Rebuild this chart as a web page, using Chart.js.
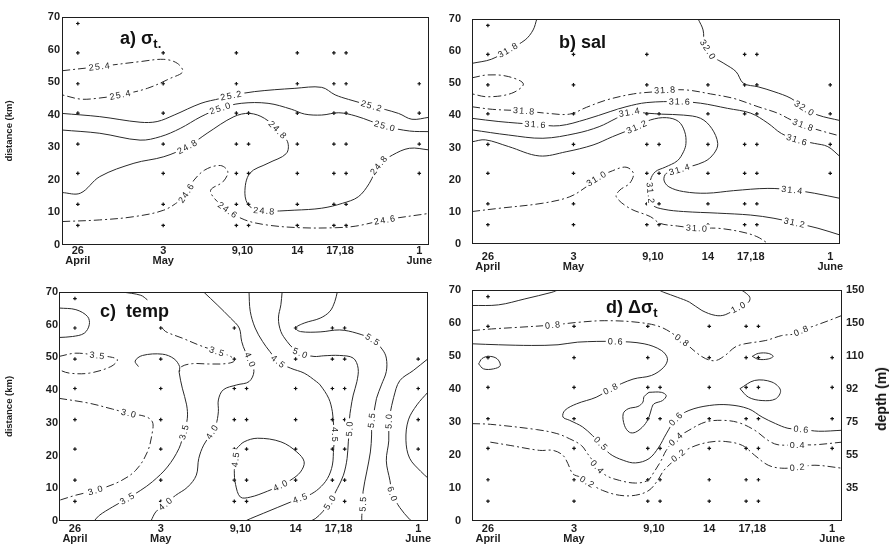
<!DOCTYPE html>
<html>
<head>
<meta charset="utf-8">
<script src="https://cdn.jsdelivr.net/npm/chart.js@4.4.1/dist/chart.umd.min.js"></script>
<style>
	html, body { margin: 0; padding: 0; background: #fff; }
	#page { position: relative; width: 892px; height: 548px; overflow: hidden; font-family: 'Liberation Sans', Arial, sans-serif; color: #111; }
	.panel { position: absolute; width: 446px; height: 274px; }
	.title { position: absolute; font-size: 18px; line-height: 18px; font-weight: bold; white-space: nowrap; }
	.title sub { font-size: 13px; vertical-align: -4px; }
	#depth { position: absolute; left: 881px; top: 399px; transform: translate(-50%, -50%) rotate(-90deg); font-size: 14px; font-weight: bold; white-space: nowrap; }
</style>
</head>
<body>
<div id="page">
	<div class="panel" style="left:0;top:0"><canvas id="chart-a" width="446" height="274"></canvas></div>
	<div class="panel" style="left:446px;top:0"><canvas id="chart-b" width="446" height="274"></canvas></div>
	<div class="panel" style="left:0;top:274px"><canvas id="chart-c" width="446" height="274"></canvas></div>
	<div class="panel" style="left:446px;top:274px"><canvas id="chart-d" width="446" height="274"></canvas></div>
	<div class="title" style="left:120px;top:29px">a) σ<sub>t.</sub></div>
	<div class="title" style="left:559px;top:33px">b) sal</div>
	<div class="title" style="left:100px;top:302px">c)&nbsp; temp</div>
	<div class="title" style="left:606px;top:298px">d) Δσ<sub>t</sub></div>
	<div id="depth">depth (m)</div>
</div>
<script>
'use strict';

// x = days after 26 April, y = distance (km)
const tickDays = [0, 7, 13.5, 18, 21.5, 28];
const tickLabels = [['26', 'April'], ['3', 'May'], '9,10', '14', '17,18', ['1', 'June']];
const depthTicks = [10, 20, 30, 40, 50, 60, 70];
const depthLabels = ['35', '55', '75', '92', '110', '150', '150'];

const stationDays = [0, 7, 13, 14, 18, 21, 22, 28];
const stationRows = [
	[6, 12.5, 22, 31, 40.5, 49.5, 59, 68],
	[6, 12.5, 22, 31, 40.5, 49.5, 59],
	[6, 12.5, 22, 31, 40.5, 49.5, 59],
	[6, 12.5, 22, 31, 40.5],
	[6, 12.5, 22, 31, 40.5, 49.5, 59],
	[6, 12.5, 22, 31, 40.5, 49.5, 59],
	[6, 12.5, 22, 31, 40.5, 49.5, 59],
	[22, 31, 40.5, 49.5]
];

// a) sigma-t
const sigma254 = [[-1.3,53.5],[1.8,54.8],[5.1,56.3],[7.05,57.0],[8.15,55.8],[8.6,53.2],[7.6,51.2],[5.7,48.1],[3.5,46.1],[1.5,45.0],[0.2,44.8],[-1.3,46.1]];
const sigma252 = [[-1.3,40.4],[1.8,39.4],[5.1,37.7],[6.5,37.9],[7.9,39.9],[10.1,43.5],[11.7,45.0],[12.6,45.9],[14.5,47.1],[17.8,48.1],[20.0,48.4],[21.1,46.1],[22.2,44.7],[24.1,42.7],[26.3,40.4],[27.4,38.6],[28.8,39.2]];
const sigma250 = [[-1.3,35.3],[1.8,34.3],[5.1,32.2],[6.8,33.3],[8.4,35.8],[10.1,39.4],[11.7,42.0],[13.4,43.5],[15.6,43.5],[17.5,41.7],[18.6,40.2],[20.0,39.9],[21.4,40.6],[22.8,39.6],[25.2,36.5],[27.2,35.0],[28.8,34.8]];
const sigma248 = [[-1.3,16.1],[0.2,15.9],[1.8,21.0],[4.6,25.1],[7.05,27.1],[9.0,30.2],[10.6,34.3],[12.8,39.4],[14.1,40.4],[15.3,38.9],[16.4,35.3],[17.2,31.7],[17.1,28.1],[15.6,25.1],[14.1,22.0],[13.7,15.9],[14.1,11.8],[15.3,10.5],[17.8,10.7],[20.0,11.3],[21.7,12.8],[23.0,14.8],[23.9,18.9],[24.7,24.6],[25.8,27.6],[27.2,29.7],[28.8,29.2]];
const sigma246 = [[-1.3,7.2],[1.8,7.7],[4.6,8.7],[7.05,10.7],[8.4,13.8],[8.9,16.0],[9.3,18.9],[10.4,23.0],[11.7,24.4],[12.3,22.5],[11.9,19.4],[10.9,16.9],[11.2,14.3],[12.3,10.7],[13.7,7.7],[15.6,6.1],[18.3,5.3],[21.1,5.3],[22.8,5.8],[25.2,7.7],[28.8,9.7]];

// b) salinity
const sal318top = [[4.0,70],[3.7,66.6],[3.05,63.5],[1.67,60.4],[0.3,57.5],[-1.3,56.2]];
const salLoop = [[-1.3,51.7],[0.0,52.6],[1.67,52.1],[2.9,49.8],[1.95,46.9],[0.0,45.8],[-1.3,46.7]];
const sal320 = [[17.2,70],[17.6,66.6],[17.7,62.4],[18.0,60.4],[18.4,58.3],[19.3,56.2],[20.3,53.6],[20.9,50.0],[22.1,48.9],[23.4,47.4],[24.8,45.3],[25.9,42.2],[27.0,40.1],[28.8,38.4]];
const sal318 = [[-1.3,42.7],[0.36,41.9],[2.97,41.4],[4.75,40.7],[6.67,40.4],[8.05,42.5],[9.7,44.8],[11.9,46.7],[13.7,47.4],[14.5,47.9],[16.3,47.9],[18.2,46.7],[20.1,45.3],[22.1,42.7],[23.7,40.7],[24.8,38.6],[25.8,37.0],[27.0,35.5],[28.8,33.6]];
const sal316 = [[-1.3,39.1],[0.9,38.1],[3.9,37.2],[5.85,36.8],[8.05,38.8],[10.0,41.2],[11.3,42.7],[13.0,44.0],[15.7,44.3],[17.4,43.8],[19.6,42.2],[21.5,40.7],[22.9,37.6],[24.0,34.4],[25.3,32.4],[26.7,31.3],[27.8,30.3],[28.8,27.2]];
const sal314 = [[-1.3,35.5],[1.7,33.9],[4.5,32.9],[7.2,34.4],[9.1,36.5],[10.5,39.1],[11.6,41.0],[13.0,40.7],[14.2,40.4],[16.0,40.1],[17.4,39.1],[18.3,36.0],[18.8,31.3],[18.5,28.2],[17.7,25.6],[15.7,23.2],[14.6,22.0],[14.4,19.9],[14.8,17.8],[16.0,16.3],[17.9,15.8],[20.1,16.6],[22.9,17.3],[24.9,16.8],[26.7,15.8],[28.8,14.2]];
const sal312 = [[-1.3,31.8],[-0.2,32.4],[1.7,30.3],[4.2,27.4],[6.4,28.7],[8.6,30.8],[10.2,33.4],[12.2,36.5],[13.3,38.6],[14.6,39.3],[15.6,38.1],[16.1,34.9],[16.2,31.3],[16.0,28.7],[15.5,25.9],[14.5,23.9],[13.7,22.5],[13.3,19.9],[13.3,15.8],[13.5,12.1],[14.4,10.8],[16.0,10.1],[18.8,9.6],[21.5,9.0],[23.4,8.0],[25.1,6.6],[27.0,4.9],[28.8,2.8]];
const sal310 = [[-1.3,10.1],[0.9,11.1],[4.5,12.7],[6.7,14.7],[8.05,17.8],[8.9,20.4],[10.2,22.8],[11.3,23.9],[11.9,22.0],[11.6,18.9],[10.8,16.8],[10.5,14.7],[11.6,11.1],[13.3,8.5],[14.1,6.4],[15.5,5.6],[17.1,4.9],[18.8,4.9],[20.7,3.8],[22.0,2.3],[22.9,0.2],[23.0,0]];

// c) temperature
const tempLoop = [[-1.3,65.1],[0.08,64.6],[1.03,62.5],[1.17,60.0],[0.76,57.4],[-0.19,56.4],[-1.3,56.1]];
const temp35left = [[-1.3,50.3],[0.08,51.3],[1.85,50.6],[3.07,50.0],[3.47,49.2],[2.93,47.2],[1.17,45.2],[-0.46,45.2],[-1.3,46.2]];
const temp30 = [[-1.3,37.5],[1.17,36.0],[3.07,34.2],[4.42,32.9],[5.78,31.9],[6.32,30.3],[6.32,27.3],[5.91,21.1],[4.96,15.5],[3.6,12.0],[1.71,9.4],[0.08,7.9],[-1.3,6.3]];
const temp35 = [[5.18,47.2],[4.91,48.9],[5.51,50.6],[7.14,51.0],[8.08,49.6],[8.54,47.2],[8.5,45.5],[8.76,40.6],[9.11,35.5],[9.17,31.4],[8.9,27.3],[8.49,22.2],[7.54,16.5],[6.32,12.0],[5.37,9.4],[4.29,6.9],[3.07,4.3],[1.98,1.7],[1.57,0]];
const temp35upper = [[7.08,59.2],[7.4,57.9],[8.76,55.9],[10.1,53.8],[11.6,51.8],[12.7,50.3],[13.0,48.9],[12.3,48.1],[10.9,48.0],[9.6,48.1],[8.7,47.2],[8.5,45.5]];
const tempTop = [[3.88,70],[5.37,69.0],[5.91,67.6]];
const temp40 = [[10.5,70],[11.6,66.1],[12.7,62.0],[13.4,59.0],[13.6,54.9],[13.9,51.8],[14.3,49.2],[14.6,45.7],[14.2,42.6],[13.2,41.6],[12.1,40.1],[11.7,37.0],[11.7,33.4],[11.5,29.3],[11.2,27.3],[10.5,23.2],[10.1,19.1],[9.9,14.0],[9.2,10.4],[8.2,7.8],[7.4,5.3],[6.6,2.8],[6.2,0]];
const temp40loop = [[13.2,22.2],[13.8,24.2],[14.9,25.3],[16.8,24.2],[18.1,21.1],[18.7,18.1],[18.4,15.0],[17.6,12.5],[16.8,10.9],[15.7,9.1],[14.3,7.3],[13.5,7.3],[13.1,11.2],[13.0,15.5],[13.1,18.9],[13.2,22.2]];
const temp45 = [[14.2,70],[14.3,64.1],[14.7,59.0],[15.3,54.9],[15.9,51.8],[16.6,48.7],[17.6,46.7],[18.7,45.2],[19.7,42.6],[20.0,41.6],[20.7,37.5],[21.0,33.4],[21.1,29.3],[21.2,26.3],[21.1,22.2],[21.0,17.1],[20.6,13.0],[19.9,9.9],[19.1,7.9],[18.4,7.0],[17.6,5.8],[15.4,2.4],[14.3,0.7],[13.9,0]];
const temp50 = [[16.9,70],[16.8,66.1],[16.6,62.0],[16.8,57.9],[17.3,54.9],[17.8,52.8],[18.4,51.3],[19.5,50.3],[20.3,50.5],[21.6,50.6],[22.7,49.8],[23.1,46.7],[23.0,42.6],[22.7,38.5],[22.5,34.4],[22.4,31.4],[22.4,28.3],[22.3,24.2],[22.2,19.1],[21.9,14.0],[21.4,9.9],[20.8,5.8],[20.2,2.8],[19.6,0.7],[19.2,0]];
const temp55 = [[21.4,70],[21.2,67.1],[20.8,64.1],[20.0,62.0],[18.7,60.5],[18.0,59.0],[18.4,57.9],[20.0,57.8],[21.6,58.4],[23.0,57.4],[24.3,55.4],[25.1,52.3],[25.4,49.8],[25.4,45.7],[25.0,41.6],[24.6,37.5],[24.4,33.4],[24.2,30.9],[24.2,26.3],[24.1,21.1],[23.8,15.0],[23.5,8.9],[23.5,5.3],[23.4,1.7],[23.4,0]];
const temp60 = [[28.8,49.6],[27.6,46.0],[26.5,42.9],[26.0,37.8],[25.7,32.7],[25.6,30.6],[25.6,24.5],[25.4,18.4],[25.7,12.3],[25.9,8.2],[26.5,4.1],[27.3,0.5],[27.5,0]];
const tempLoopRight = [[28.8,39.4],[27.9,35.5],[27.2,30.9],[27.0,24.7],[27.3,19.2],[28.2,15.2],[28.8,13.1]];

// d) delta sigma-t
const delta10 = [[-1.3,65.3],[0.86,65.5],[3.0,67.3],[5.2,69.3],[5.8,70],[13.8,70],[14.3,69.3],[15.4,67.8],[16.4,66.3],[17.4,63.8],[18.5,62.3],[19.3,62.5],[20.4,64.8],[21.2,66.3],[21.3,67.8],[20.9,69.3],[20.6,70]];
const delta08 = [[-1.3,57.7],[0.3,58.2],[2.5,58.7],[5.3,59.4],[7.3,60.2],[9.5,60.7],[12.2,60.2],[14.1,58.7],[15.8,54.7],[16.9,51.2],[17.7,49.2],[18.5,48.6],[19.3,50.2],[20.1,52.7],[20.9,53.7],[22.6,54.7],[23.9,56.2],[25.0,56.7],[25.5,57.7],[26.6,59.2],[27.7,60.7],[28.8,62.3]];
const delta06 = [[-1.3,53.7],[0.86,53.4],[3.56,53.2],[5.7,53.4],[7.3,54.2],[10.4,54.4],[12.7,53.7],[14.1,51.7],[14.6,49.2],[14.3,46.6],[13.3,44.1],[11.8,43.0],[10.0,40.1],[8.8,37.5],[7.2,35.5],[6.25,33.5],[6.1,31.5],[6.65,30.5],[7.7,28.5],[8.5,25.9],[9.2,23.4],[9.9,20.4],[11.0,18.4],[12.0,17.6],[13.1,18.9],[13.9,22.4],[14.5,26.4],[15.3,31.0],[16.35,33.5],[18.0,35.0],[19.6,35.2],[21.2,34.0],[22.3,31.5],[23.4,29.5],[24.4,28.1],[25.5,27.8],[26.9,27.2],[28.8,27.5]];
const delta04 = [[-1.3,29.5],[0.19,29.3],[3.96,27.7],[5.6,26.5],[6.65,24.9],[7.6,22.9],[8.1,20.4],[8.5,18.4],[8.9,16.3],[9.6,13.8],[10.7,12.3],[12.0,11.5],[13.0,12.3],[13.5,14.8],[14.1,18.4],[14.5,21.4],[15.3,24.9],[16.35,27.5],[17.7,30.0],[19.1,30.5],[20.4,29.8],[21.7,27.5],[22.8,24.4],[23.6,23.1],[25.2,23.1],[26.6,23.1],[28.8,23.9]];
const delta02 = [[0.19,23.9],[1.8,22.9],[4.2,21.4],[5.3,21.4],[6.1,19.9],[6.5,17.4],[6.9,14.3],[7.5,13.3],[8.1,11.8],[9.3,9.3],[10.7,7.8],[12.0,7.8],[13.1,9.3],[13.8,12.3],[14.3,15.3],[15.0,17.9],[15.5,19.9],[16.6,22.4],[18.0,23.9],[19.3,24.1],[20.7,22.9],[21.7,19.9],[22.8,16.9],[23.9,16.0],[25.2,16.3],[26.6,16.9],[28.8,16.0]];
const deltaBlob = [[13.1,39.0],[14.1,39.0],[14.5,38.0],[14.2,36.5],[13.5,35.5],[13.3,34.0],[13.1,31.5],[12.7,29.0],[12.0,26.9],[11.5,26.9],[11.1,29.0],[11.0,32.5],[11.4,34.0],[12.2,34.7],[12.6,36.0],[12.7,37.7],[13.1,39.0]];
const deltaLoopLeft = [[-0.76,47.6],[-0.49,49.2],[0.05,49.9],[0.73,49.2],[1.0,47.1],[0.45,46.1],[-0.36,46.1],[-0.76,47.6]];
const deltaOvalSmall = [[21.5,49.9],[22.0,50.8],[22.8,50.8],[23.2,49.9],[22.8,49.1],[22.0,49.0],[21.5,49.9]];
const deltaOval = [[20.5,40.1],[21.7,42.6],[23.1,42.1],[23.8,39.6],[23.4,37.0],[22.3,36.5],[21.2,37.5],[20.5,40.1]];

// [line, label text(s), label point indexes, dash-dot]
const panelA = [
	[sigma254, '25.4', [1, 8], true],
	[sigma252, '25.2', [7, 13], false],
	[sigma250, '25.0', [6, 14], false],
	[sigma248, '24.8', [5, 10, 17, 23], false],
	[sigma246, '24.6', [5, 13, 19], true]
];
const panelB = [
	[sal318top, '31.8', [3], false],
	[salLoop, '', [], true],
	[sal320, '32.0', [3, 11], false],
	[sal318, '31.8', [2, 9, 16], true],
	[sal316, '31.6', [2, 8, 14], false],
	[sal314, '31.4', [6, 15, 23], false],
	[sal312, '31.2', [7, 18, 25], false],
	[sal310, '31.0', [5, 16], true]
];
const panelC = [
	[tempLoop, '', [], false],
	[temp35left, '3.5', [2], true],
	[temp30, '3.0', [3, 10], true],
	[temp35, '3.5', [10, 15], false],
	[temp35upper, '3.5', [4], true],
	[tempTop, '', [], false],
	[temp40, '4.0', [6, 14, 20], false],
	[temp40loop, ['4.0', '4.5'], [8, 14], false],
	[temp45, '4.5', [5, 13, 19], false],
	[temp50, '5.0', [6, 16, 21], false],
	[temp55, '5.5', [10, 17, 22], false],
	[temp60, ['5.0', '6.0'], [5, 9], false],
	[tempLoopRight, '', [], false]
];
const panelD = [
	[delta10, '1.0', [12], false],
	[delta08, '0.8', [3, 8, 18], true],
	[delta06, ['0.6', '0.8', '0.5', '0.6', '0.6'], [5, 12, 20, 27, 35], false],
	[delta04, '0.4', [8, 16, 24], true],
	[delta02, '0.2', [8, 16, 24], true],
	[deltaBlob, '', [], false],
	[deltaLoopLeft, '', [], false],
	[deltaOvalSmall, '', [], false],
	[deltaOval, '', [], false]
];

const ink = '#1e1e1e';
const tickFont = {family: "'Liberation Sans', Arial, sans-serif", size: 11, weight: 'bold', lineHeight: '10px'};

const contourLabels = {
	id: 'contourLabels',
	afterDatasetsDraw(chart) {
		let ctx = chart.ctx;
		ctx.save();
		ctx.font = "9px 'Liberation Sans', Arial, sans-serif";
		if ('letterSpacing' in ctx) ctx.letterSpacing = '1.2px';
		ctx.textAlign = 'center';
		ctx.textBaseline = 'middle';
		chart.data.datasets.forEach((ds, i) => {
			if (!ds.marks) return;
			let pts = chart.getDatasetMeta(i).data;
			ds.marks.forEach(([k, text]) => {
				let p = pts[k];
				let a = pts[Math.max(k - 1, 0)];
				let b = pts[Math.min(k + 1, pts.length - 1)];
				let ang = Math.atan2(b.y - a.y, b.x - a.x);
				if (ang > Math.PI / 2) ang -= Math.PI;
				if (ang < -Math.PI / 2) ang += Math.PI;
				ctx.save();
				ctx.translate(p.x, p.y);
				ctx.rotate(ang);
				let w = ctx.measureText(text).width;
				ctx.fillStyle = '#fff';
				ctx.fillRect(-w / 2 - 2, -4.5, w + 4, 9);
				ctx.fillStyle = '#222';
				ctx.fillText(text, 0, 0.5);
				ctx.restore();
			});
		});
		ctx.restore();
	}
};

const frame = {
	id: 'frame',
	afterDraw(chart) {
		let {left, top, right, bottom} = chart.chartArea;
		let ctx = chart.ctx;
		ctx.save();
		ctx.strokeStyle = ink;
		ctx.lineWidth = 1;
		ctx.strokeRect(Math.round(left) + 0.5, Math.round(top) + 0.5, Math.round(right - left) - 1, Math.round(bottom - top) - 1);
		ctx.restore();
	}
};

function stationPoints() {
	let pts = [];
	for (let i = 0; i < stationDays.length; i++) {
		stationRows[i].forEach((d) => pts.push({x: stationDays[i], y: d}));
	}
	return pts;
}

function contourSets(list) {
	return list.map(([pts, text, at, dashed]) => ({
		data: pts.map((p) => ({x: p[0], y: p[1]})),
		showLine: true,
		pointRadius: 0,
		pointHoverRadius: 0,
		borderColor: '#2a2a2a',
		borderWidth: 1,
		tension: 0.35,
		borderDash: dashed ? [8, 3, 2, 3] : [],
		marks: at.map((k, j) => [k, Array.isArray(text) ? text[j] : text])
	}));
}

function composePanel(id, list, o) {
	let datasets = contourSets(list);
	datasets.push({
		data: stationPoints(),
		showLine: false,
		pointStyle: 'cross',
		pointRadius: 1.8,
		borderWidth: 1.2,
		borderColor: '#111'
	});

	let scales = {
		x: {
			type: 'linear',
			min: -1.3,
			max: 28.8,
			afterBuildTicks: (s) => { s.ticks = tickDays.map((v) => ({value: v})); },
			afterFit: (s) => { s.height = o.xh; },
			ticks: {callback: (v, i) => tickLabels[i], font: tickFont, color: ink, padding: o.xp, maxRotation: 0, autoSkip: false},
			grid: {display: false, drawTicks: false},
			border: {display: false}
		},
		y: {
			type: 'linear',
			min: 0,
			max: 70,
			afterFit: (s) => { s.width = o.yw; },
			ticks: {stepSize: 10, font: tickFont, color: ink, padding: o.yp},
			grid: {display: false, drawTicks: false},
			border: {display: false},
			title: {
				display: !!o.yTitle,
				text: 'distance (km)',
				color: ink,
				font: {family: "'Liberation Sans', Arial, sans-serif", size: 9.5, weight: 'bold'},
				padding: {top: 4, bottom: 0}
			}
		}
	};

	if (o.depth) {
		scales.y2 = {
			type: 'linear',
			position: 'right',
			min: 0,
			max: 70,
			afterBuildTicks: (s) => { s.ticks = depthTicks.map((v) => ({value: v})); },
			afterFit: (s) => { s.width = 50; },
			ticks: {callback: (v, i) => depthLabels[i], font: tickFont, color: ink, padding: 4},
			grid: {display: false, drawTicks: false},
			border: {display: false}
		};
	}

	return new Chart(document.getElementById(id), {
		type: 'scatter',
		data: {datasets: datasets},
		options: {
			responsive: false,
			animation: false,
			layout: {padding: o.pad},
			plugins: {legend: {display: false}, tooltip: {enabled: false}},
			scales: scales
		},
		plugins: [contourLabels, frame]
	});
}

composePanel('chart-a', panelA, {pad: {top: 17, right: 17, left: 0, bottom: 0}, yw: 62, xh: 29, xp: 1, yp: 2, yTitle: true});
composePanel('chart-b', panelB, {pad: {top: 19, right: 52, left: 0, bottom: 0}, yw: 26, xh: 30, xp: 8, yp: 11});
composePanel('chart-c', panelC, {pad: {top: 18, right: 18, left: 0, bottom: 0}, yw: 59, xh: 27, xp: 3, yp: 1, yTitle: true});
composePanel('chart-d', panelD, {pad: {top: 16, right: 0, left: 0, bottom: 0}, yw: 26, xh: 27, xp: 3, yp: 11, depth: true});
</script>
</body>
</html>
